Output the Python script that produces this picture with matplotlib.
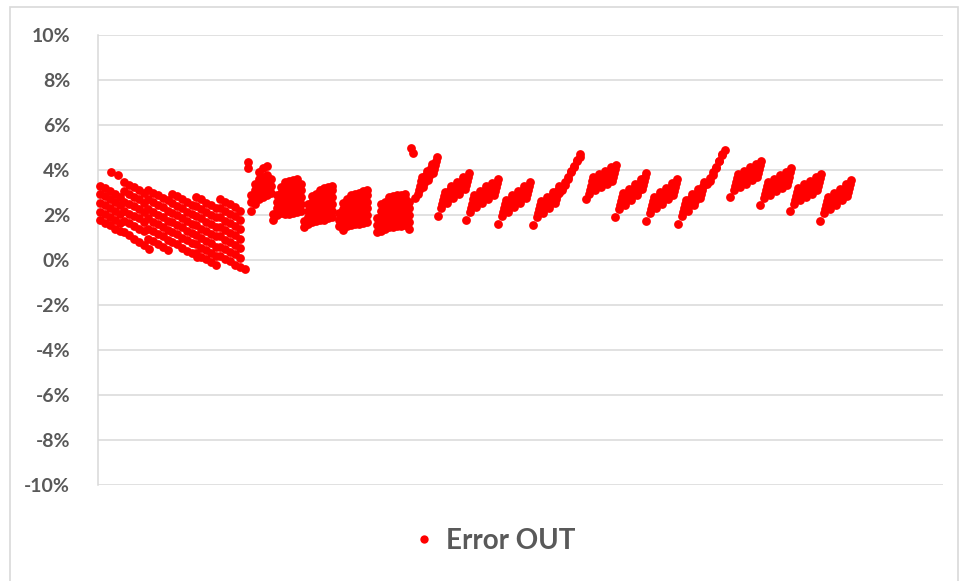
import matplotlib
matplotlib.use("Agg")
import matplotlib.pyplot as plt
from matplotlib.lines import Line2D
from matplotlib.patches import Rectangle
from matplotlib.ticker import FuncFormatter

plt.rcParams["axes.unicode_minus"] = False
plt.rcParams["font.family"] = ["Lato", "DejaVu Sans"]

# ---------------------------------------------------------------- data ---
# Error OUT (%) against sample number.

# Early run: short falling strokes, 5 samples apart.
FALL_STEP = 5
falling_strokes = [
    (2,   [3.30, 3.20, 3.05, 2.95, 2.80]),
    (2,   [2.95, 2.85, 2.70, 2.60, 2.45]),
    (2,   [2.55, 2.45, 2.30, 2.20, 2.05]),
    (2,   [2.15, 2.05, 1.90, 1.80, 1.65]),
    (2,   [1.80, 1.65, 1.55, 1.40, 1.30]),
    (26,  [3.45, 3.35, 3.25, 3.10, 3.00]),
    (26,  [3.05, 2.95, 2.80, 2.70, 2.55]),
    (26,  [2.60, 2.50, 2.40, 2.25, 2.15]),
    (26,  [2.20, 2.05, 1.95, 1.85, 1.70]),
    (26,  [1.75, 1.65, 1.50, 1.40, 1.30]),
    (26,  [1.25, 1.10, 0.95, 0.80, 0.65, 0.50]),
    (50,  [3.10, 3.00, 2.90, 2.75, 2.65]),
    (50,  [2.70, 2.60, 2.45, 2.35, 2.20]),
    (50,  [2.25, 2.15, 2.00, 1.90, 1.75]),
    (50,  [1.85, 1.70, 1.60, 1.45, 1.35]),
    (50,  [1.40, 1.30, 1.15, 1.05, 0.90]),
    (50,  [0.95, 0.85, 0.70, 0.60, 0.45]),
    (74,  [2.95, 2.85, 2.70, 2.60, 2.45]),
    (74,  [2.55, 2.40, 2.30, 2.15, 2.05]),
    (74,  [2.10, 2.00, 1.85, 1.75, 1.60]),
    (74,  [1.70, 1.55, 1.45, 1.30, 1.20]),
    (74,  [1.25, 1.15, 1.00, 0.90, 0.75]),
    (74,  [0.80, 0.70, 0.55, 0.40, 0.30, 0.15]),
    (98,  [2.80, 2.70, 2.55, 2.45, 2.30]),
    (98,  [2.40, 2.25, 2.15, 2.00, 1.90]),
    (98,  [1.95, 1.85, 1.70, 1.60, 1.45]),
    (98,  [1.55, 1.40, 1.30, 1.15, 1.05]),
    (98,  [1.10, 1.00, 0.85, 0.75, 0.60]),
    (98,  [0.70, 0.55, 0.45, 0.30, 0.20]),
    (98,  [0.30, 0.15, 0.05, -0.10, -0.20]),
    (122, [2.70, 2.60, 2.50, 2.35, 2.20]),
    (122, [2.30, 2.20, 2.05, 1.95, 1.80]),
    (122, [1.90, 1.75, 1.65, 1.50, 1.40]),
    (122, [1.45, 1.35, 1.20, 1.10, 0.95]),
    (122, [1.05, 0.90, 0.80, 0.65, 0.55]),
    (122, [0.60, 0.50, 0.35, 0.25, 0.10]),
    (122, [0.20, 0.05, -0.05, -0.20, -0.30, -0.40]),
]

# Middle run: stacked readings per sample.
stacked_columns = [
    (150, [4.35, 4.10]),
    (153, [2.20, 2.60, 2.90]),
    (157, [2.50, 2.80, 3.10, 3.40]),
    (161, [2.70, 3.00, 3.30, 3.60, 3.90]),
    (165, [2.80, 3.10, 3.40, 3.70, 4.10]),
    (169, [2.90, 3.20, 3.50, 3.80, 4.20]),
    (173, [3.00, 3.30, 3.60]),
    (175, [1.80, 2.05]),
    (179, [2.00, 2.30, 2.60, 2.90]),
    (183, [2.10, 2.40, 2.70, 3.00, 3.25]),
    (187, [2.05, 2.35, 2.65, 2.95, 3.25, 3.45]),
    (191, [2.05, 2.35, 2.65, 2.95, 3.25, 3.50]),
    (195, [2.10, 2.40, 2.70, 3.00, 3.30, 3.55]),
    (199, [2.15, 2.45, 2.75, 3.05, 3.35, 3.60]),
    (203, [2.20, 2.50, 2.80, 3.10, 3.40]),
    (206, [1.45, 1.75]),
    (210, [1.60, 1.90, 2.20, 2.50]),
    (214, [1.70, 2.00, 2.30, 2.60, 2.85]),
    (218, [1.75, 2.05, 2.35, 2.65, 2.95]),
    (222, [1.80, 2.10, 2.40, 2.70, 3.00, 3.10]),
    (226, [1.80, 2.10, 2.40, 2.70, 3.00, 3.20]),
    (230, [1.85, 2.15, 2.45, 2.75, 3.05, 3.25]),
    (234, [1.90, 2.20, 2.50, 2.80, 3.10, 3.30]),
    (241, [1.50, 1.80, 2.10]),
    (245, [1.35, 1.65, 1.95, 2.25, 2.55]),
    (249, [1.50, 1.80, 2.10, 2.40, 2.70]),
    (253, [1.55, 1.85, 2.15, 2.45, 2.75, 2.90]),
    (257, [1.60, 1.90, 2.20, 2.50, 2.80, 2.95]),
    (261, [1.60, 1.90, 2.20, 2.50, 2.80, 3.00]),
    (265, [1.65, 1.95, 2.25, 2.55, 2.85, 3.05]),
    (269, [1.70, 2.00, 2.30, 2.60, 2.90, 3.10]),
    (279, [1.25, 1.55, 1.85]),
    (283, [1.30, 1.60, 1.90, 2.20, 2.50]),
    (287, [1.40, 1.70, 2.00, 2.30, 2.60]),
    (291, [1.45, 1.75, 2.05, 2.35, 2.65, 2.80]),
    (295, [1.45, 1.75, 2.05, 2.35, 2.65, 2.85]),
    (299, [1.50, 1.80, 2.10, 2.40, 2.70, 2.90]),
    (303, [1.50, 1.80, 2.10, 2.40, 2.70, 2.90]),
    (307, [1.55, 1.85, 2.15, 2.45, 2.75, 2.95]),
    (311, [1.40, 1.70, 2.00, 2.30, 2.60]),
]

# Isolated readings.
single_samples = [13, 20, 313, 315, 317, 340, 368, 400, 435, 488, 517, 548,
                  580, 632, 662, 692, 722]
single_values = [3.90, 3.80, 5.00, 4.75, 2.75, 1.95, 1.80, 1.60, 1.55, 2.70,
                 1.90, 1.75, 1.60, 2.80, 2.45, 2.20, 1.75]

# Late run: short steep rising bursts, 1 sample apart.
BURST_STEP = 1
rising_bursts = [
    (320, [2.95, 3.13, 3.31, 3.49, 3.67]),
    (325, [3.25, 3.43, 3.61, 3.79, 3.97]),
    (330, [3.55, 3.73, 3.91, 4.09, 4.27]),
    (335, [3.85, 4.03, 4.21, 4.39, 4.57]),
    (343, [2.30, 2.48, 2.66, 2.84, 3.02]),
    (349, [2.55, 2.73, 2.91, 3.09, 3.27]),
    (355, [2.75, 2.93, 3.11, 3.29, 3.47]),
    (361, [2.95, 3.13, 3.31, 3.49, 3.67]),
    (367, [3.15, 3.33, 3.51, 3.69, 3.87]),
    (372, [2.15, 2.33, 2.51, 2.69, 2.87]),
    (378, [2.35, 2.53, 2.71, 2.89, 3.07]),
    (384, [2.55, 2.73, 2.91, 3.09, 3.27]),
    (390, [2.70, 2.88, 3.06, 3.24, 3.42]),
    (396, [2.90, 3.08, 3.26, 3.44, 3.62]),
    (404, [1.95, 2.13, 2.31, 2.49, 2.67]),
    (410, [2.15, 2.33, 2.51, 2.69, 2.87]),
    (416, [2.35, 2.53, 2.71, 2.89, 3.07]),
    (422, [2.55, 2.73, 2.91, 3.09, 3.27]),
    (428, [2.75, 2.93, 3.11, 3.29, 3.47]),
    (439, [1.90, 2.08, 2.26, 2.44, 2.62]),
    (445, [2.10, 2.28, 2.46, 2.64, 2.82]),
    (451, [2.30, 2.48, 2.66, 2.84, 3.02]),
    (457, [2.55, 2.73, 2.91, 3.09, 3.27]),
    (491, [2.95, 3.13, 3.31, 3.49, 3.67]),
    (497, [3.10, 3.28, 3.46, 3.64, 3.82]),
    (503, [3.25, 3.43, 3.61, 3.79, 3.97]),
    (509, [3.40, 3.58, 3.76, 3.94, 4.12]),
    (514, [3.50, 3.68, 3.86, 4.04, 4.22]),
    (521, [2.25, 2.43, 2.61, 2.79, 2.97]),
    (527, [2.45, 2.63, 2.81, 2.99, 3.17]),
    (533, [2.65, 2.83, 3.01, 3.19, 3.37]),
    (539, [2.90, 3.08, 3.26, 3.44, 3.62]),
    (544, [3.15, 3.33, 3.51, 3.69, 3.87]),
    (552, [2.10, 2.28, 2.46, 2.64, 2.82]),
    (558, [2.30, 2.48, 2.66, 2.84, 3.02]),
    (564, [2.50, 2.68, 2.86, 3.04, 3.22]),
    (570, [2.70, 2.88, 3.06, 3.24, 3.42]),
    (575, [2.90, 3.08, 3.26, 3.44, 3.62]),
    (584, [1.95, 2.13, 2.31, 2.49, 2.67]),
    (590, [2.20, 2.38, 2.56, 2.74, 2.92]),
    (596, [2.45, 2.63, 2.81, 2.99, 3.17]),
    (602, [2.75, 2.93, 3.11, 3.29, 3.47]),
    (636, [3.10, 3.28, 3.46, 3.64, 3.82]),
    (642, [3.25, 3.43, 3.61, 3.79, 3.97]),
    (648, [3.40, 3.58, 3.76, 3.94, 4.12]),
    (654, [3.55, 3.73, 3.91, 4.09, 4.27]),
    (659, [3.70, 3.88, 4.06, 4.24, 4.42]),
    (666, [2.75, 2.93, 3.11, 3.29, 3.47]),
    (672, [2.90, 3.08, 3.26, 3.44, 3.62]),
    (678, [3.05, 3.23, 3.41, 3.59, 3.77]),
    (684, [3.20, 3.38, 3.56, 3.74, 3.92]),
    (689, [3.35, 3.53, 3.71, 3.89, 4.07]),
    (696, [2.50, 2.68, 2.86, 3.04, 3.22]),
    (702, [2.65, 2.83, 3.01, 3.19, 3.37]),
    (708, [2.80, 2.98, 3.16, 3.34, 3.52]),
    (714, [2.95, 3.13, 3.31, 3.49, 3.67]),
    (719, [3.10, 3.28, 3.46, 3.64, 3.82]),
    (726, [2.10, 2.28, 2.46, 2.64, 2.82]),
    (732, [2.25, 2.43, 2.61, 2.79, 2.97]),
    (738, [2.45, 2.63, 2.81, 2.99, 3.17]),
    (744, [2.65, 2.83, 3.01, 3.19, 3.37]),
    (749, [2.85, 3.03, 3.21, 3.39, 3.57]),
]

# Two long climbs to the local peaks, 3 samples apart.
RAMP_STEP = 3
ramps = [
    (461, [3.00, 3.20, 3.45, 3.70, 3.95, 4.20, 4.45, 4.70]),
    (464, [3.10, 3.35, 3.60, 3.90, 4.15, 4.40, 4.60]),
    (609, [3.40, 3.65, 3.90, 4.15, 4.40, 4.65, 4.90]),
    (612, [3.50, 3.80, 4.10, 4.40, 4.70]),
]

y_ticks = [-10, -8, -6, -4, -2, 0, 2, 4, 6, 8, 10]
series_name = "Error OUT"

# ------------------------------------------------------- flatten series ---
xs, ys = [], []
for start, vals in falling_strokes:
    for i, v in enumerate(vals):
        xs.append(start + i * FALL_STEP)
        ys.append(v)
for sample, vals in stacked_columns:
    for v in vals:
        xs.append(sample)
        ys.append(v)
xs.extend(single_samples)
ys.extend(single_values)
for strokes, step in ((rising_bursts, BURST_STEP), (ramps, RAMP_STEP)):
    for start, vals in strokes:
        for i, v in enumerate(vals):
            xs.append(start + i * step)
            ys.append(v)

# ---------------------------------------------------------------- plot ---
RED = "#FF0000"
GRID = "#D9D9D9"
TEXT = "#595959"

fig = plt.figure(figsize=(9.61, 5.81), dpi=100)
fig.patches.append(Rectangle((10 / 961, -0.01), 948 / 961, 1.01 - 7 / 581,
                             transform=fig.transFigure, fill=False,
                             edgecolor=GRID, linewidth=1.2))

ax = fig.add_axes([98 / 961, 1 - 485 / 581, 845 / 961, 450 / 581])
ax.scatter(xs, ys, s=40, color=RED, linewidths=0, zorder=3, clip_on=False)

ax.set_xlim(0, 845)
ax.set_ylim(-10, 10)
ax.set_yticks(y_ticks)
ax.yaxis.set_major_formatter(FuncFormatter(lambda v, _: f"{int(round(v))}%"))
ax.set_xticks([])
ax.grid(axis="y", color=GRID, linewidth=1.1, zorder=0)
ax.set_axisbelow(True)
for side in ("top", "right", "bottom"):
    ax.spines[side].set_visible(False)
ax.spines["left"].set_color(GRID)
ax.spines["left"].set_linewidth(1.1)
ax.tick_params(axis="y", length=0, pad=20, labelsize=14, labelcolor=TEXT)
for lbl in ax.get_yticklabels():
    lbl.set_fontweight("bold")

handle = Line2D([], [], linestyle="none", marker="o", markersize=6,
                markerfacecolor=RED, markeredgewidth=0)
fig.legend([handle], [series_name], loc="center",
           bbox_to_anchor=(493 / 961, 1 - 541 / 581), frameon=False,
           handletextpad=0.3, handlelength=1.0,
           prop={"size": 20, "weight": "bold"}, labelcolor=TEXT)

fig.savefig("out.png", dpi=100)
